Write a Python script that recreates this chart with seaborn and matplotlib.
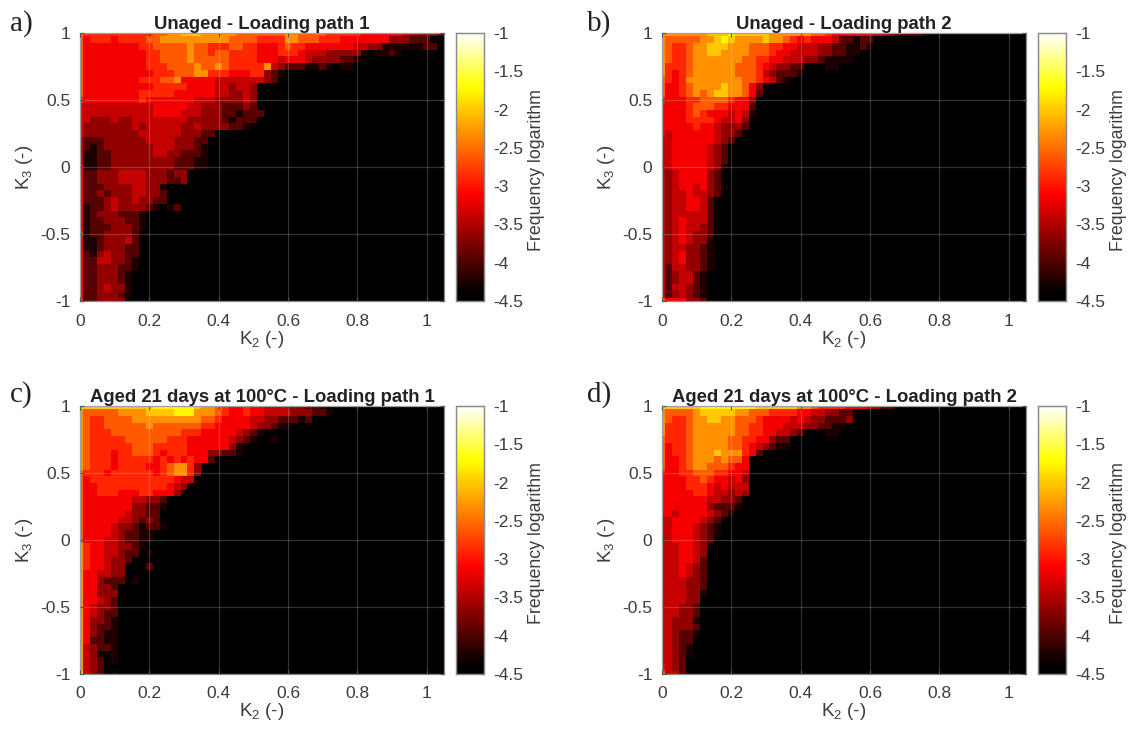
import matplotlib
matplotlib.use("Agg")
import matplotlib.pyplot as plt
from matplotlib.colors import LinearSegmentedColormap
import numpy as np
import seaborn as sns

sns.set_style("white")
plt.rcParams['font.family'] = ['Liberation Sans', 'DejaVu Sans']
plt.rcParams['mathtext.fontset'] = 'custom'
plt.rcParams['mathtext.rm'] = 'Liberation Sans'
plt.rcParams['mathtext.default'] = 'regular'

# ========================
# DATA
# ========================

# frequency logarithm for each colour step seen in the maps
LEVELS = [-4.5, -4.25, -3.95, -3.65, -3.4, -3.15, -2.9, -2.6, -2.3, -2.0, -1.75]

K2_TICKS = [0, 0.2, 0.4, 0.6, 0.8, 1]
K3_TICKS = [-1, -0.5, 0, 0.5, 1]
K2_TICK_LABELS = ["0", "0.2", "0.4", "0.6", "0.8", "1"]
K3_TICK_LABELS = ["-1", "-0.5", "0", "0.5", "1"]
CBAR_TICKS = [-1, -1.5, -2, -2.5, -3, -3.5, -4, -4.5]
CBAR_TICK_LABELS = ["-1", "-1.5", "-2", "-2.5", "-3", "-3.5", "-4", "-4.5"]

TITLES = [
    "Unaged - Loading path 1",
    "Unaged - Loading path 2",
    "Aged 21 days at 100°C - Loading path 1",
    "Aged 21 days at 100°C - Loading path 2",
]
LETTERS = ["a)", "b)", "c)", "d)"]

# one string per K3 row (top is K3=1), one hex digit per K2 cell = index in LEVELS
panel_a = [
    "7666666666 6778899988 8887777777 8877776666 6555555433 332",
    "7566656666 7788888888 8877776666 8877766655 5555533322 2",
    "7555555556 6777778776 6677665556 7665555555 4433111111 22",
    "7555555555 6677778776 7766665556 6654443333 3101121000",
    "7555555555 6677778777 7766665554 5554333322 1",
    "7555555555 6667777877 8766666843 2221121011",
    "7555555555 5666777886 6655566321",
    "7555555556 6677855555 4444444320",
    "7555555555 5666665555 4434430000",
    "7555555556 6666555555 4433430000",
    "6555555556 5555555444 3333430000",
    "5444444444 4555554433 3222320000",
    "5444444444 4555544433 3221222000",
    "5433343344 4444443333 3212220000",
    "5333333343 4444433433 3322100000",
    "5333333334 4444433322",
    "4222333333 4444333220",
    "4212333333 3444333210",
    "4112233333 3443322210",
    "4112233333 3333222110",
    "5112233333 3333222110",
    "5223334444 3332330000",
    "5223334444 3332230000",
    "5222333344 3310000000",
    "5223233344 3320000000",
    "5222343343 3220000000",
    "5122343333 2101200000",
    "5123332221",
    "5122333221",
    "5122233321",
    "612233332",
    "511233342",
    "511233322",
    "521343322",
    "522443321",
    "522333221",
    "52233321",
    "52233321",
    "52234331",
    "52233321",
    "62233330",
]

panel_b = [
    "8888888999 a999998888 8877655555 5443222210",
    "877777889a 9888898876 5655542212 2",
    "8766788999 8887776655 4443322112 1",
    "8766788998 8887776554 4443322110",
    "8766788888 8877665544 4332111100",
    "8666788888 8777654332 2000110000",
    "8656788888 8777643222 1",
    "7656888888 8877654210",
    "7556788889 8875310000",
    "7556787899 8875200000",
    "6555667777 6553000000",
    "5555677766 5552000000",
    "5555676555 4541000000",
    "5555666654 4530000000",
    "5555565543 3320000000",
    "5455555543 3200000000",
    "4455555543 2",
    "4455555432",
    "4455555432",
    "4455555432",
    "4455555431",
    "4345555320",
    "4345555320",
    "4345545321",
    "4344544320",
    "4344554200",
    "4344554200",
    "4344444200",
    "4345444200",
    "4345443200",
    "4345433200",
    "4345433100",
    "4344332100",
    "4345332100",
    "4345332100",
    "4244332100",
    "4234421",
    "4234421",
    "4244321",
    "4234321",
    "7555332",
]

panel_c = [
    "9999999999 9aaaaaa988 7655655444 3332210",
    "8777778888 9999aaa888 7655655444 4333221",
    "8766777788 8888888877 6555544332 2212",
    "8766777777 8777777766 5555543321 1",
    "8766677777 7777766655 5554321000",
    "8766666777 7776665555 5543210010",
    "8766666677 7666665555 5531",
    "8766656677 7656665553 3221",
    "8766656666 6565656552",
    "8766656666 5567886300",
    "7666566666 6567886300",
    "7566666666 6666544000",
    "7556666666 6665430000",
    "7556665556 6555300000",
    "7555555544 3320000000",
    "7555555533 2210000000",
    "7555555433 2200000000",
    "7555554432 3200000000",
    "7555543321 2210000000",
    "7555543221 1",
    "7555443221 1",
    "8655443321",
    "8655443220 1",
    "86554332",
    "8655433000 2",
    "8554433",
    "855322201",
    "855332",
    "855333",
    "855432",
    "854332",
    "854322",
    "853321",
    "853221",
    "853211",
    "852211",
    "843221",
    "843101",
    "843201",
    "8432",
    "943201",
]

panel_d = [
    "999999aaaa aaaa999999 8876666555 4322",
    "8777789999 9887776666 5544332200",
    "8766788998 8777655554 5433222300",
    "8666788888 8776655544 4332211000",
    "8666788888 8776655443 2000110000",
    "7666788888 7766553220",
    "7566788888 7765432110",
    "7566788898 8865200000",
    "7556788878 7750000000",
    "7556788777 6550000000",
    "6556677766 5540000000",
    "5555667655 4530000000",
    "5555666545 4440000000",
    "5555566544 3430000000",
    "5555555443 3200000000",
    "5555555322 2100000000",
    "5545555432 1",
    "4455554320",
    "4455543210",
    "4455543210",
    "4455543200",
    "4445543",
    "4445543",
    "4445542",
    "4445432",
    "4445432",
    "4444332",
    "4444332",
    "4444331",
    "444433",
    "444332",
    "444332",
    "443331",
    "443332",
    "443221",
    "44322",
    "44321",
    "44321",
    "44320",
    "5432",
    "7442",
]

N_K2 = 53
K2_STEP = 0.02
K3_STEP = 0.05

# ========================
# COLORMAP + LAYOUT
# ========================

cmap = LinearSegmentedColormap.from_list(
    "matlab_hot",
    [(0, "#000000"), (0.03, "#000000"), (0.40, "#ff0000"), (0.80, "#ffff00"), (1, "#ffffff")],
)

TEXT_COL = "#3c3c3c"
EDGE_COL = "#8a8a8a"
W, H = 1129, 730
# left edge and top edge of each map, in pixels
LEFTS = [80, 662, 80, 662]
TOPS = [33, 33, 406, 406]
LETTER_X = [10, 587, 10, 587]
LETTER_Y = [24, 24, 395, 395]
AX_W, AX_H = 364, 268
CB_GAP, CB_W = 12, 28


def to_grid(rows):
    grid = []
    for row in rows:
        cells = [LEVELS[int(c, 16)] for c in row.replace(" ", "")]
        grid.append(cells + [LEVELS[0]] * (N_K2 - len(cells)))
    return np.array(grid)


def rect(left, top, width, height):
    return [left / W, 1 - (top + height) / H, width / W, height / H]


fig = plt.figure(figsize=(W / 100, H / 100), dpi=100, facecolor="white")

panels = [panel_a, panel_b, panel_c, panel_d]
for i, rows in enumerate(panels):
    ax = fig.add_axes(rect(LEFTS[i], TOPS[i], AX_W, AX_H))
    cax = fig.add_axes(rect(LEFTS[i] + AX_W + CB_GAP, TOPS[i], CB_W, AX_H))

    sns.heatmap(
        to_grid(rows),
        ax=ax,
        cbar_ax=cax,
        cmap=cmap,
        vmin=-4.5,
        vmax=-1,
        xticklabels=False,
        yticklabels=False,
    )

    # cell centres sit on the K2/K3 values, outer cells are cut in half
    ax.set_xlim(0.5, 1.05 / K2_STEP + 0.5)
    ax.set_ylim(40.5, 0.5)
    ax.set_xticks([v / K2_STEP + 0.5 for v in K2_TICKS])
    ax.set_yticks([(1 - v) / K3_STEP + 0.5 for v in K3_TICKS])
    ax.set_xticklabels(K2_TICK_LABELS, rotation=0)
    ax.set_yticklabels(K3_TICK_LABELS, rotation=0)
    ax.tick_params(direction="in", length=3, width=0.8, color="#555555",
                   labelcolor=TEXT_COL, labelsize=12.5, top=True, right=True,
                   bottom=True, left=True)
    ax.tick_params(axis="x", pad=9)
    ax.tick_params(axis="y", pad=7)
    ax.grid(True, color="white", alpha=0.2, lw=0.9)
    ax.set_axisbelow(False)
    for s in ax.spines.values():
        s.set_visible(True)
        s.set_color(EDGE_COL)
        s.set_linewidth(0.9)

    ax.set_xlabel("K$_2$ (-)", fontsize=13.5, color=TEXT_COL, labelpad=0)
    ax.set_ylabel("K$_3$ (-)", fontsize=13.5, color=TEXT_COL, labelpad=4)
    ax.set_title(TITLES[i], fontsize=13.3, fontweight="bold", color="#222222", pad=3)

    cax.set_yticks(CBAR_TICKS)
    cax.set_yticklabels(CBAR_TICK_LABELS)
    cax.tick_params(axis="y", direction="in", length=2, width=0.8, color="#555555",
                    labelcolor=TEXT_COL, labelsize=12.5, right=True, left=False, pad=7)
    cax.set_ylabel("Frequency logarithm", fontsize=12.8, color=TEXT_COL, labelpad=3, y=0.49)
    for s in cax.spines.values():
        s.set_visible(True)
        s.set_color(EDGE_COL)
        s.set_linewidth(0.9)

    fig.text(LETTER_X[i] / W, 1 - LETTER_Y[i] / H, LETTERS[i],
             family="Liberation Serif", fontsize=21, color="#222222", va="center")

fig.savefig("out.png", dpi=100)
